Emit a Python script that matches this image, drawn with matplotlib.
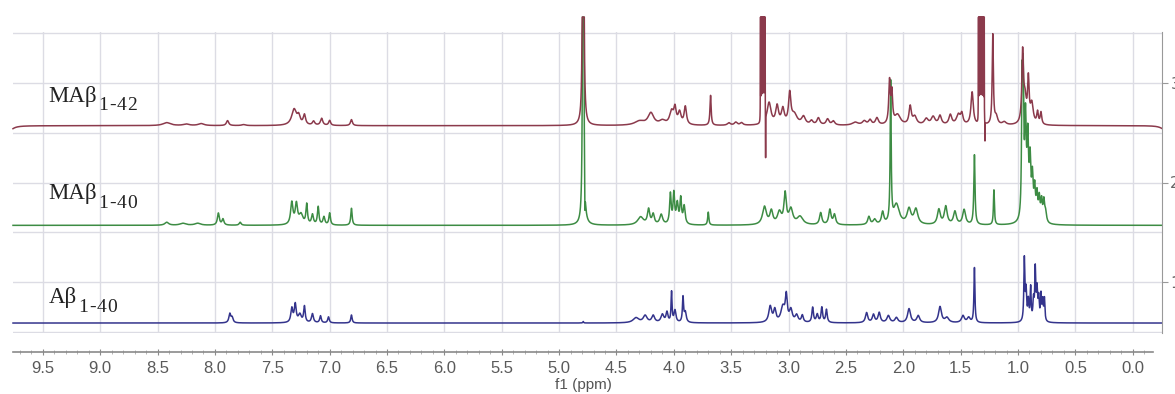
#!/usr/bin/env python3
import numpy as np
import matplotlib
matplotlib.use("Agg")
import matplotlib.pyplot as plt
from matplotlib.ticker import MultipleLocator

# peak tables: position (ppm), height, half width (ppm)
red_ppm = [9.80, 8.42, 8.25, 8.12, 7.89, 7.75,
           7.31, 7.27, 7.22, 7.14, 7.07, 7.00, 6.81,
           4.79,
           4.30, 4.20, 4.10, 4.02, 3.99, 3.95, 3.90,
           3.68, 3.52, 3.46, 3.41,
           3.245, 3.24, 3.235, 3.23, 3.225, 3.22, 3.215, 3.21, 3.205, 3.20,
           3.17, 3.10, 3.05, 2.99, 2.95, 2.87, 2.80, 2.74, 2.66, 2.61,
           2.42, 2.34, 2.29, 2.23, 2.12, 2.10, 2.05,
           1.94, 1.90, 1.80, 1.74, 1.68, 1.59, 1.52, 1.49,
           1.40, 1.345, 1.34, 1.335, 1.33, 1.325, 1.32, 1.315, 1.31, 1.305, 1.30, 1.295, 1.288,
           1.22, 1.19, 1.12,
           0.96, 0.94, 0.91, 0.88, 0.83, 0.80, -0.28]
red_height = [-0.06, 0.03, 0.015, 0.02, 0.05, 0.01,
              0.16, 0.08, 0.10, 0.04, 0.07, 0.05, 0.06,
              12.0,
              0.04, 0.12, 0.04, 0.13, 0.15, 0.12, 0.18,
              0.30, 0.025, 0.03, 0.025,
              5.0, 5.0, 5.0, 5.0, 5.0, 5.0, 5.0, 5.0, 5.0, -0.45,
              0.22, 0.18, 0.15, 0.30, 0.10, 0.08, 0.04, 0.07, 0.06, 0.04,
              0.03, 0.04, 0.05, 0.07, 0.42, 0.30, 0.10,
              0.18, 0.08, 0.06, 0.08, 0.09, 0.10, 0.10, 0.10,
              0.33, 5.0, 5.0, 5.0, 5.0, 5.0, 5.0, 5.0, 5.0, 5.0, 5.0, 5.0, -0.2,
              0.90, 0.08, 0.03,
              0.68, 0.25, 0.42, 0.20, 0.12, 0.12, -0.04]
red_width = [0.04, 0.04, 0.03, 0.03, 0.012, 0.02,
             0.025, 0.015, 0.012, 0.012, 0.012, 0.01, 0.01,
             0.003,
             0.05, 0.03, 0.03, 0.02, 0.012, 0.015, 0.012,
             0.006, 0.015, 0.015, 0.015,
             0.0004, 0.0004, 0.0004, 0.0004, 0.0004, 0.0004, 0.0004, 0.0004, 0.0004, 0.0005,
             0.02, 0.015, 0.015, 0.012, 0.03, 0.02, 0.015, 0.015, 0.015, 0.015,
             0.03, 0.02, 0.015, 0.015, 0.008, 0.008, 0.03,
             0.012, 0.02, 0.02, 0.02, 0.015, 0.015, 0.02, 0.012,
             0.012, 0.0004, 0.0004, 0.0004, 0.0004, 0.0004, 0.0004, 0.0004, 0.0004, 0.0004,
             0.0004, 0.0004, 0.0005,
             0.006, 0.015, 0.02,
             0.008, 0.015, 0.008, 0.015, 0.008, 0.008, 0.04]

green_ppm = [8.42, 8.28, 8.15, 7.97, 7.93, 7.78,
             7.33, 7.29, 7.25, 7.20, 7.15, 7.10, 7.05, 7.00, 6.81,
             4.79, 4.775,
             4.29, 4.22, 4.18, 4.11, 4.03, 4.00, 3.97, 3.94, 3.91,
             3.70,
             3.21, 3.15, 3.08, 3.03, 2.98, 2.90,
             2.72, 2.64, 2.60, 2.30, 2.25, 2.18, 2.11, 2.06,
             1.95, 1.89, 1.69, 1.63, 1.55, 1.47, 1.38, 1.21,
             0.965, 0.955, 0.935, 0.915, 0.895, 0.875, 0.855, 0.835, 0.815, 0.795, 0.775, 0.76]
green_height = [0.03, 0.02, 0.02, 0.12, 0.06, 0.03,
                0.22, 0.20, 0.10, 0.20, 0.10, 0.18, 0.08, 0.12, 0.17,
                12.0, -0.3,
                0.08, 0.15, 0.10, 0.10, 0.30, 0.30, 0.20, 0.25, 0.18,
                0.13,
                0.18, 0.13, 0.12, 0.30, 0.15, 0.08,
                0.12, 0.15, 0.10, 0.08, 0.05, 0.12, 1.40, 0.20,
                0.15, 0.15, 0.15, 0.18, 0.13, 0.15, 0.70, 0.35,
                1.20, 1.30, 0.95, 0.75, 0.55, 0.40, 0.30, 0.25, 0.22, 0.20, 0.20, 0.10]
green_width = [0.02, 0.03, 0.03, 0.01, 0.01, 0.01,
               0.012, 0.012, 0.02, 0.008, 0.01, 0.008, 0.01, 0.008, 0.007,
               0.003, 0.002,
               0.03, 0.012, 0.012, 0.015, 0.008, 0.008, 0.01, 0.008, 0.01,
               0.006,
               0.02, 0.015, 0.02, 0.012, 0.02, 0.03,
               0.012, 0.012, 0.012, 0.012, 0.015, 0.012, 0.005, 0.03,
               0.02, 0.02, 0.015, 0.015, 0.015, 0.015, 0.006, 0.005,
               0.005, 0.006, 0.008, 0.008, 0.008, 0.008, 0.008, 0.008, 0.008, 0.008, 0.008, 0.01]

blue_ppm = [7.87, 7.85,
            7.33, 7.30, 7.26, 7.22, 7.15, 7.08, 7.01, 6.81,
            4.79,
            4.33, 4.25, 4.18, 4.10, 4.06, 4.02, 3.99, 3.92, 3.90,
            3.16, 3.12, 3.05, 3.02, 2.98, 2.93, 2.88, 2.79, 2.75, 2.71, 2.67,
            2.32, 2.26, 2.21, 2.13, 2.06, 1.95, 1.87, 1.68, 1.62, 1.48, 1.43, 1.38,
            0.945, 0.93, 0.91, 0.89, 0.865, 0.85, 0.835, 0.82, 0.80, 0.785, 0.77]
blue_height = [0.09, 0.05,
               0.14, 0.18, 0.08, 0.16, 0.09, 0.07, 0.06, 0.08,
               0.015,
               0.05, 0.07, 0.07, 0.08, 0.10, 0.30, 0.12, 0.25, 0.10,
               0.16, 0.12, 0.15, 0.25, 0.12, 0.07, 0.07, 0.15, 0.08, 0.15, 0.13,
               0.10, 0.08, 0.10, 0.07, 0.05, 0.14, 0.07, 0.16, 0.05, 0.07, 0.05, 0.55,
               0.62, 0.30, 0.20, 0.33, 0.20, 0.50, 0.30, 0.22, 0.25, 0.20, 0.22]
blue_width = [0.01, 0.01,
              0.01, 0.01, 0.015, 0.008, 0.01, 0.008, 0.008, 0.007,
              0.004,
              0.03, 0.02, 0.015, 0.015, 0.01, 0.005, 0.01, 0.006, 0.01,
              0.015, 0.012, 0.02, 0.01, 0.015, 0.015, 0.01, 0.008, 0.01, 0.008, 0.008,
              0.012, 0.012, 0.012, 0.015, 0.015, 0.015, 0.015, 0.015, 0.02, 0.015, 0.015, 0.005,
              0.005, 0.006, 0.006, 0.005, 0.006, 0.005, 0.006, 0.006, 0.005, 0.006, 0.005]

# vertical offsets of the stacked traces and their labels
trace_offsets = [0.59, 1.57, 2.57]
trace_colors = ['#34348c', '#3d8c44', '#8b3a4c']
label_main = ['Aβ', 'MAβ', 'MAβ']
label_sub = ['1-40', '1-40', '1-42']
label_y = [0.79, 1.83, 2.81]


def spectrum(x, ppm, height, width, offset):
    "Sum of lorentzian lines on a flat baseline."
    y = np.full_like(x, offset)
    for p, h, w in zip(ppm, height, width):
        y += h * w**2 / ((x - p)**2 + w**2)
    return np.minimum(y, 3.66)


def main():
    x = np.linspace(9.76, -0.255, 120000)
    traces = [(blue_ppm, blue_height, blue_width),
              (green_ppm, green_height, green_width),
              (red_ppm, red_height, red_width)]

    fig = plt.figure(figsize=(11.75, 3.94), dpi=100)
    ax = fig.add_axes([13/1175, 61/394, 1149/1175, 301/394])
    grid_col = '#dcdce4'

    for (p, h, w), off, col in zip(traces, trace_offsets, trace_colors):
        ax.plot(x, spectrum(x, p, h, w, off), color=col, lw=1.1, clip_on=False)

    ax.set_xlim(9.76, -0.255)
    ax.set_ylim(0.49, 3.51)
    ax.set_xticks(np.arange(0, 9.6, 0.5))
    ax.tick_params(axis='x', length=0, labelbottom=False)
    ax.yaxis.tick_right()
    ax.set_yticks([1, 2, 3])
    ax.set_yticks([0.5, 1.5, 2.5, 3.5], minor=True)
    ax.tick_params(axis='y', which='major', length=4, color='#999999',
                   labelsize=11, labelcolor='#666666', pad=2)
    ax.tick_params(axis='y', which='minor', length=0)
    ax.grid(True, which='both', color=grid_col, lw=1.0)
    ax.set_axisbelow(True)
    for side in ['top', 'bottom', 'left']:
        ax.spines[side].set_visible(False)
    ax.spines['right'].set_color('#999999')

    # trace labels; the subscript is set letter by letter to get its wide spacing
    for lm, ls, ly in zip(label_main, label_sub, label_y):
        prev = ax.text(9.45, ly, lm, family='Liberation Serif', fontsize=16.5,
                       color='#222222', va='baseline', ha='left')
        for i, ch in enumerate(ls):
            if i == 0:
                prev = ax.annotate(ch, xy=(1, 0), xycoords=prev, xytext=(0.8, -2.5),
                                   textcoords='offset points', family='Liberation Serif',
                                   fontsize=14, color='#222222', va='baseline', ha='left')
            else:
                prev = ax.annotate(ch, xy=(1, 0), xycoords=prev, xytext=(0.7, 0),
                                   textcoords='offset points', family='Liberation Serif',
                                   fontsize=14, color='#222222', va='bottom', ha='left')

    # separate ppm axis underneath
    ax2 = fig.add_axes([13/1175, 42/394, 1140/1175, 0.001])
    ax2.set_xlim(9.76, -0.255 + 9/114.7)
    ax2.patch.set_visible(False)
    for side in ['top', 'left', 'right']:
        ax2.spines[side].set_visible(False)
    ax2.spines['bottom'].set_color('#8a8a8a')
    ax2.spines['bottom'].set_linewidth(1.2)
    ax2.set_yticks([])
    ax2.xaxis.set_major_locator(MultipleLocator(0.5))
    ax2.xaxis.set_minor_locator(MultipleLocator(0.1))
    ax2.tick_params(axis='x', which='major', direction='inout', length=5, color='#8a8a8a',
                    labelsize=12, labelcolor='#5a5a5a', pad=4)
    ax2.tick_params(axis='x', which='minor', direction='inout', length=3, color='#aaaaaa')
    ax2.set_xticks(np.arange(0, 9.6, 0.5))
    ax2.set_xticklabels([f'{v:.1f}' for v in np.arange(0, 9.6, 0.5)], family='Liberation Sans')
    fig.text(583/1175, 2/394, 'f1 (ppm)', family='Liberation Sans', fontsize=11,
             color='#555555', ha='center', va='bottom')

    plt.savefig('out.png', dpi=100)


if __name__ == '__main__':
    main()
